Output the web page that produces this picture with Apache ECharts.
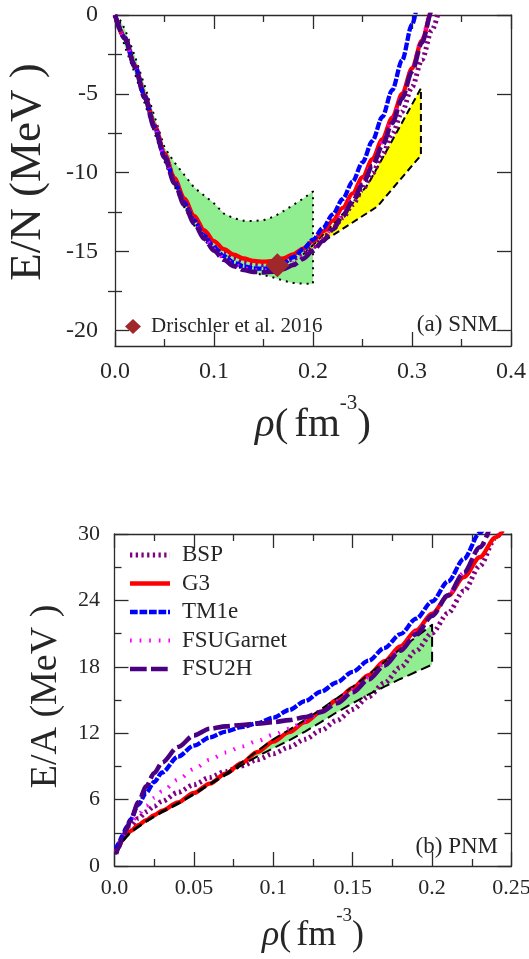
<!DOCTYPE html>
<html>
<head>
<meta charset="utf-8">
<script src="https://cdn.jsdelivr.net/npm/echarts@6/dist/echarts.min.js"></script>
<style>
  html, body { margin: 0; padding: 0; background: #fff; }
  #chart { width: 529px; height: 959px; }
</style>
</head>
<body>
<div id="chart"></div>
<script>
// ---------- (a) symmetric nuclear matter, E/N in MeV ----------
const snmRho = [0, 0.01, 0.02, 0.03, 0.04, 0.05, 0.06, 0.07, 0.08, 0.09, 0.10, 0.11, 0.12, 0.13, 0.14, 0.15, 0.16,
  0.17, 0.18, 0.19, 0.20, 0.21, 0.22, 0.23, 0.24, 0.25, 0.26, 0.27, 0.28, 0.29, 0.30, 0.31, 0.32, 0.33];
const snmBSP = [0, -1.45, -3.2, -5.12, -7.04, -8.86, -10.44, -11.77, -12.89, -13.81, -14.53, -15.05, -15.42, -15.67,
  -15.8, -15.84, -15.8, -15.68, -15.46, -15.14, -14.72, -14.2, -13.58, -12.86, -12.03, -11.09, -10.04, -8.87, -7.57,
  -6.14, -4.57, -2.85, -0.97, 1.08];
const snmG3 = [0, -1.45, -3.2, -5.1, -7.0, -8.8, -10.35, -11.65, -12.75, -13.65, -14.35, -14.85, -15.2, -15.45, -15.6,
  -15.65, -15.6, -15.45, -15.19, -14.82, -14.34, -13.75, -13.05, -12.24, -11.32, -10.29, -9.15, -7.89, -6.51, -5.01,
  -3.39, -1.63, 0.27, 2.32];
const snmTM1e = [0, -1.45, -3.2, -5.15, -7.1, -8.95, -10.55, -11.9, -13.05, -14.0, -14.75, -15.3, -15.7, -15.95,
  -16.07, -16.1, -16.0, -15.75, -15.37, -14.87, -14.25, -13.51, -12.65, -11.67, -10.57, -9.35, -7.99, -6.47, -4.77,
  -2.87, -0.6, 1.8, 4.3, 6.9];
const snmFSUGarnet = [0, -1.5, -3.28, -5.22, -7.16, -9.0, -10.61, -11.98, -13.14, -14.1, -14.86, -15.42, -15.81,
  -16.06, -16.18, -16.21, -16.16, -16.01, -15.74, -15.35, -14.84, -14.21, -13.47, -12.62, -11.66, -10.59, -9.4, -8.09,
  -6.65, -5.08, -3.37, -1.52, 0.48, 2.64];
const snmFSU2H = [0, -1.5, -3.3, -5.25, -7.2, -9.05, -10.67, -12.05, -13.22, -14.19, -14.96, -15.53, -15.93, -16.18,
  -16.3, -16.33, -16.28, -16.13, -15.86, -15.47, -14.96, -14.34, -13.61, -12.77, -11.82, -10.76, -9.58, -8.28, -6.85,
  -5.29, -3.59, -1.75, 0.24, 2.39];

// green band (dotted outline)
const snmBandRho = [0.005, 0.01, 0.02, 0.03, 0.04, 0.05, 0.06, 0.07, 0.08, 0.09, 0.10, 0.11, 0.12, 0.13, 0.14, 0.15,
  0.16, 0.17, 0.18, 0.19, 0.20];
const snmBandUpper = [-0.3, -0.9, -2.6, -4.5, -6.45, -8.4, -9.35, -10.15, -10.95, -11.45, -11.95, -12.6, -12.9, -13.05,
  -13.07, -13.02, -12.8, -12.45, -12.05, -11.65, -11.2];
const snmBandLower = [-1.0, -2.0, -3.7, -5.6, -7.5, -9.3, -10.85, -12.2, -13.35, -14.25, -14.95, -15.45, -15.85, -16.15,
  -16.35, -16.5, -16.65, -16.85, -17.0, -17.05, -17.05];

// yellow band (dashed outline)
const snmHiRhoUpper = [0.19, 0.20, 0.22, 0.24, 0.256, 0.309];
const snmHiUpper = [-15.2, -14.6, -13.3, -11.95, -10.7, -4.65];
const snmHiRhoLower = [0.19, 0.197, 0.228, 0.265, 0.309];
const snmHiLower = [-15.2, -14.9, -13.65, -12.15, -8.9];

// saturation point
const drischlerPoint = [0.164, -15.87];

const snmYMajor = [0, -5, -10, -15, -20];
const snmYMinor = [-2.5, -7.5, -12.5, -17.5];

// ---------- (b) pure neutron matter, E/A in MeV ----------
const pnmRho = [0.001, 0.0025, 0.005, 0.0075, 0.01, 0.015, 0.02, 0.025, 0.03, 0.04, 0.05, 0.06, 0.07, 0.08, 0.09,
  0.10, 0.11, 0.12, 0.13, 0.14, 0.15, 0.16, 0.17, 0.18, 0.19, 0.20, 0.21, 0.22, 0.23, 0.24, 0.25];
const pnmBSP = [1.2, 1.8, 2.6, 3.2, 3.6, 4.3, 4.9, 5.4, 5.85, 6.65, 7.35, 8.0, 8.55, 9.05, 9.6, 10.15, 10.75, 11.45,
  12.25, 13.15, 14.15, 15.3, 16.55, 17.95, 19.45, 21.05, 22.85, 24.85, 27.1, 29.65, 32.4];
const pnmG3 = [1.3, 1.75, 2.35, 2.8, 3.15, 3.7, 4.15, 4.6, 5.0, 5.75, 6.6, 7.45, 8.35, 9.3, 10.3, 11.25, 12.1, 13.0,
  13.95, 15.0, 16.1, 17.25, 18.5, 19.85, 21.3, 22.8, 24.4, 26.1, 27.9, 29.7, 31.6];
const pnmTM1e = [1.55, 2.05, 2.75, 3.5, 4.18, 5.55, 6.62, 7.59, 8.45, 9.88, 10.88, 11.62, 12.15, 12.55, 12.9, 13.4,
  14.1, 14.9, 15.75, 16.6, 17.55, 18.55, 19.7, 20.95, 22.35, 23.9, 25.7, 27.75, 30.1, 32.6, 35.2];
const pnmFSUGarnet = [1.2, 1.9, 2.7, 3.35, 3.85, 4.65, 5.45, 6.15, 6.75, 7.8, 8.75, 9.6, 10.25, 10.8, 11.3, 11.85,
  12.4, 13.1, 13.95, 14.9, 15.95, 17.05, 18.3, 19.65, 21.1, 22.7, 24.5, 26.5, 28.7, 31.0, 33.4];
const pnmFSU2H = [1.1, 1.65, 2.5, 3.3, 4.1, 5.75, 7.2, 8.4, 9.35, 10.75, 11.8, 12.4, 12.62, 12.74, 12.86, 13.0, 13.18,
  13.45, 13.9, 14.7, 15.7, 16.85, 18.1, 19.45, 20.95, 22.6, 24.45, 26.5, 28.8, 31.3, 34.0];

// green band (dashed outline)
const pnmBandRho = [0.001, 0.005, 0.01, 0.02, 0.03, 0.04, 0.05, 0.06, 0.07, 0.08, 0.09, 0.10, 0.11, 0.12, 0.13, 0.14,
  0.15, 0.16, 0.17, 0.18, 0.19, 0.20];
const pnmBandUpper = [1.1, 2.3, 3.1, 4.1, 4.95, 5.7, 6.55, 7.45, 8.35, 9.35, 10.4, 11.45, 12.3, 13.2, 14.15, 15.15,
  16.2, 17.3, 18.45, 19.6, 20.7, 21.8];
const pnmBandLower = [1.1, 2.2, 3.0, 4.0, 4.85, 5.6, 6.45, 7.35, 8.2, 9.1, 9.9, 10.65, 11.35, 12.15, 13.0, 13.9, 14.7,
  15.5, 16.2, 16.9, 17.55, 18.2];

const modelNames = ['BSP', 'G3', 'TM1e', 'FSUGarnet', 'FSU2H'];

// ---------- styling ----------
const FONT = 'Liberation Serif, Times New Roman, serif';
const INK = '#262626';
const AXIS = '#2b2b2b';

const lineLook = {
  BSP:       { color: '#800080', width: 5,   type: [2.3, 3.4] },
  G3:        { color: '#ff0000', width: 4.3, type: 'solid' },
  TM1e:      { color: '#0000ff', width: 4.3, type: [7.7, 1.8] },
  FSUGarnet: { color: '#ff00ff', width: 4,   type: [1.7, 7.9] },
  FSU2H:     { color: '#4b0082', width: 4.6, type: [16.7, 4.3] }
};

const pairs = (xs, ys) => xs.map((x, i) => [x, ys[i]]);

function curve(name, xs, ys, xIdx, yIdx, z) {
  const s = lineLook[name];
  return {
    name, type: 'line', xAxisIndex: xIdx, yAxisIndex: yIdx, z,
    data: pairs(xs, ys),
    symbol: 'none', smooth: 0.3, smoothMonotone: 'x', clip: true, silent: true,
    lineStyle: { color: s.color, width: s.width, type: s.type },
    itemStyle: { color: s.color }
  };
}

// region between an upper and a lower boundary; fill and/or outline
function band(xIdx, yIdx, upX, upY, loX, loY, fill, dash, z) {
  return {
    type: 'custom', xAxisIndex: xIdx, yAxisIndex: yIdx, z, silent: true,
    data: [[upX[0], upY[0]]],
    renderItem: (params, api) => {
      const pts = [];
      for (let i = 0; i < upX.length; i++) pts.push(api.coord([upX[i], upY[i]]));
      for (let i = loX.length - 1; i >= 0; i--) pts.push(api.coord([loX[i], loY[i]]));
      return {
        type: 'polygon',
        shape: { points: pts },
        style: dash
          ? { fill: fill || 'none', stroke: '#000', lineWidth: 2, lineDash: dash, lineJoin: 'round' }
          : { fill, stroke: 'none' }
      };
    }
  };
}

const axisLineStyle = { color: AXIS, width: 1.3 };

function xAxisOf(grid, pos, max, interval, labels, fontSize, margin, name, nameGap, rich) {
  return {
    type: 'value', gridIndex: grid, position: pos, min: 0, max, interval,
    axisLine: { show: true, onZero: false, lineStyle: axisLineStyle },
    axisTick: { show: true, inside: true, length: 14, lineStyle: axisLineStyle },
    minorTick: { show: true, splitNumber: 2, length: 7, lineStyle: axisLineStyle },
    splitLine: { show: false },
    axisLabel: labels ? {
      show: true, margin, fontFamily: FONT, fontSize, color: INK,
      formatter: v => (v === 0 ? '0.0' : String(+v.toFixed(3)))
    } : { show: false },
    name: name || '', nameLocation: 'middle', nameGap: nameGap || 0,
    nameTextStyle: rich || {}
  };
}

// density axis title: italic rho, units with a raised exponent.
// The main run sits at the bottom of a tall line box, the exponent at its top.
function rhoTitle(size, supSize, lineBox, gap) {
  const base = { fontFamily: FONT, fontSize: size, lineHeight: lineBox, color: INK, verticalAlign: 'bottom' };
  return {
    fontFamily: FONT, fontSize: size, color: INK,
    rich: {
      r: Object.assign({}, base, { fontStyle: 'italic' }),
      a: base,
      u: Object.assign({}, base, { padding: [0, 0, 0, gap] }),
      s: { fontFamily: FONT, fontSize: supSize, lineHeight: supSize, color: INK, verticalAlign: 'top' }
    }
  };
}
const rhoName = '{r|ρ}{a|(}{u|fm}{s|-3}{a|)}';

const option = {
  animation: false,
  backgroundColor: '#fff',
  grid: [
    { left: 115, top: 15, width: 396, height: 331, outerBoundsMode: 'none' },
    { left: 114.5, top: 534, width: 397, height: 332, outerBoundsMode: 'none' }
  ],
  title: [
    { text: '(a) SNM', right: 31, top: 313, padding: 0,
      textStyle: { fontFamily: FONT, fontSize: 23, fontWeight: 'normal', color: INK } },
    { text: '(b) PNM', right: 31, top: 835, padding: 0,
      textStyle: { fontFamily: FONT, fontSize: 23, fontWeight: 'normal', color: INK } }
  ],
  legend: [
    {
      data: [{ name: 'Drischler et al. 2016', icon: 'diamond' }],
      left: 125, top: 316, itemWidth: 16, itemHeight: 15, padding: 0,
      selectedMode: false,
      itemStyle: { opacity: 1 },
      textStyle: { fontFamily: FONT, fontSize: 21, lineHeight: 21, color: INK, padding: [0, 0, 0, 5] }
    },
    {
      data: modelNames,
      orient: 'vertical', left: 127.5, top: 543.5, itemWidth: 40, itemHeight: 14, itemGap: 5.5,
      padding: 0, selectedMode: false,
      itemStyle: { opacity: 0 },
      lineStyle: { width: 'inherit', type: 'inherit', color: 'inherit' },
      textStyle: { fontFamily: FONT, fontSize: 23, lineHeight: 23, color: INK, padding: [0, 0, 0, 7] }
    }
  ],
  xAxis: [
    xAxisOf(0, 'bottom', 0.4, 0.1, true, 24, 14, rhoName, 47, rhoTitle(41, 21, 53, 6)),
    xAxisOf(0, 'top', 0.4, 0.1, false),
    xAxisOf(1, 'bottom', 0.25, 0.05, true, 22, 11, rhoName, 41, rhoTitle(36, 19, 47, 5)),
    xAxisOf(1, 'top', 0.25, 0.05, false)
  ],
  yAxis: [
    // (a) left, major ticks + labels
    {
      type: 'value', gridIndex: 0, position: 'left', min: -21, max: 0,
      axisLine: { show: true, onZero: false, lineStyle: axisLineStyle },
      axisTick: { show: true, inside: true, length: 14, customValues: snmYMajor, lineStyle: axisLineStyle },
      axisLabel: { show: true, customValues: snmYMajor, margin: 17, fontFamily: FONT, fontSize: 24, color: INK },
      splitLine: { show: false },
      name: 'E/N (MeV )', nameLocation: 'middle', nameRotate: 90, nameGap: 64,
      nameTextStyle: { fontFamily: FONT, fontSize: 45, color: INK, padding: [0, 0, 0, 17] }
    },
    // (a) left, minor ticks
    {
      type: 'value', gridIndex: 0, position: 'left', min: -21, max: 0,
      axisLine: { show: false },
      axisTick: { show: true, inside: true, length: 7, customValues: snmYMinor, lineStyle: axisLineStyle },
      axisLabel: { show: false }, splitLine: { show: false }
    },
    // (a) right, major
    {
      type: 'value', gridIndex: 0, position: 'right', min: -21, max: 0,
      axisLine: { show: true, onZero: false, lineStyle: axisLineStyle },
      axisTick: { show: true, inside: true, length: 14, customValues: snmYMajor, lineStyle: axisLineStyle },
      axisLabel: { show: false }, splitLine: { show: false }
    },
    // (a) right, minor
    {
      type: 'value', gridIndex: 0, position: 'right', min: -21, max: 0,
      axisLine: { show: false },
      axisTick: { show: true, inside: true, length: 7, customValues: snmYMinor, lineStyle: axisLineStyle },
      axisLabel: { show: false }, splitLine: { show: false }
    },
    // (b) left
    {
      type: 'value', gridIndex: 1, position: 'left', min: 0, max: 30, interval: 6,
      axisLine: { show: true, onZero: false, lineStyle: axisLineStyle },
      axisTick: { show: true, inside: true, length: 14, lineStyle: axisLineStyle },
      minorTick: { show: true, splitNumber: 2, length: 7, lineStyle: axisLineStyle },
      axisLabel: { show: true, margin: 14.5, fontFamily: FONT, fontSize: 22, color: INK },
      splitLine: { show: false },
      name: 'E/A (MeV )', nameLocation: 'middle', nameRotate: 90, nameGap: 49,
      nameTextStyle: { fontFamily: FONT, fontSize: 38, color: INK, padding: [0, 0, 0, 7] }
    },
    // (b) right
    {
      type: 'value', gridIndex: 1, position: 'right', min: 0, max: 30, interval: 6,
      axisLine: { show: true, onZero: false, lineStyle: axisLineStyle },
      axisTick: { show: true, inside: true, length: 14, lineStyle: axisLineStyle },
      minorTick: { show: true, splitNumber: 2, length: 7, lineStyle: axisLineStyle },
      axisLabel: { show: false }, splitLine: { show: false }
    }
  ],
  series: [
    band(0, 0, snmBandRho, snmBandUpper, snmBandRho, snmBandLower, '#90ee90', [2, 5], 1),
    band(0, 0, snmHiRhoUpper, snmHiUpper, snmHiRhoLower, snmHiLower, '#ffff00', [7, 4], 1),
    curve('BSP', snmRho, snmBSP, 0, 0, 3),
    curve('G3', snmRho, snmG3, 0, 0, 4),
    curve('TM1e', snmRho, snmTM1e, 0, 0, 5),
    curve('FSUGarnet', snmRho, snmFSUGarnet, 0, 0, 6),
    curve('FSU2H', snmRho, snmFSU2H, 0, 0, 7),
    {
      name: 'Drischler et al. 2016', type: 'scatter', xAxisIndex: 0, yAxisIndex: 0, z: 9, silent: true,
      data: [drischlerPoint], symbol: 'diamond', symbolSize: 24,
      itemStyle: { color: '#a0282a', opacity: 1 }
    },
    band(2, 4, pnmBandRho, pnmBandUpper, pnmBandRho, pnmBandLower, '#90ee90', null, 1),
    curve('BSP', pnmRho, pnmBSP, 2, 4, 3),
    curve('G3', pnmRho, pnmG3, 2, 4, 4),
    band(2, 4, pnmBandRho, pnmBandUpper, pnmBandRho, pnmBandLower, null, [10, 5], 4.5),
    curve('TM1e', pnmRho, pnmTM1e, 2, 4, 5),
    curve('FSUGarnet', pnmRho, pnmFSUGarnet, 2, 4, 6),
    curve('FSU2H', pnmRho, pnmFSU2H, 2, 4, 7)
  ]
};

const chart = echarts.init(document.getElementById('chart'), null, { renderer: 'canvas' });
chart.setOption(option);
</script>
</body>
</html>
